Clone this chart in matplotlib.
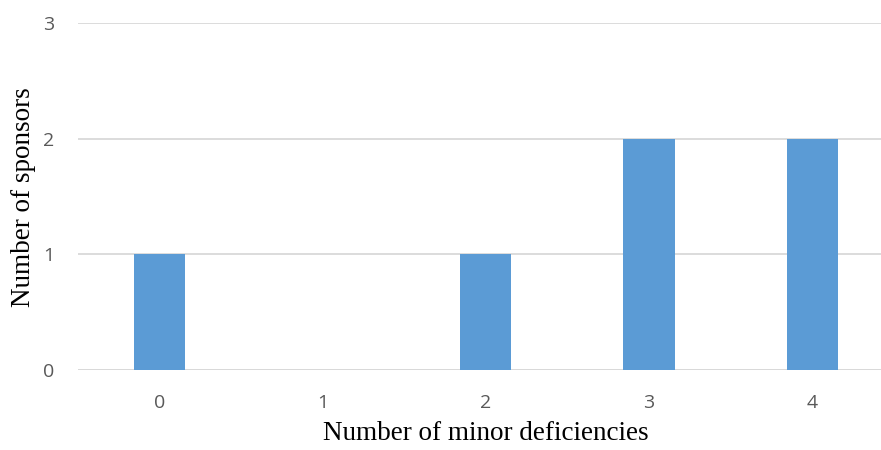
import matplotlib
matplotlib.use("Agg")
import matplotlib.pyplot as plt

# minor deficiencies per sponsor
deficiencies = [0, 1, 2, 3, 4]
sponsors = [1, 0, 1, 2, 2]
tick_labels = ["0", "1", "2", "3", "4"]

bar_color = "#5B9BD5"
grid_color = "#D9D9D9"
text_color = "#595959"

fig = plt.figure(figsize=(8.81, 4.5), dpi=100)
ax = fig.add_axes([0.0885, 0.1778, 0.926, 0.7704])

ax.bar(deficiencies, sponsors, width=0.313, color=bar_color, zorder=3)

ax.set_xlim(-0.5, 4.5)
ax.set_ylim(0, 3)
ax.set_yticks([0, 1, 2, 3])
ax.set_xticks(deficiencies)
ax.set_xticklabels(tick_labels)

ax.yaxis.grid(True, color=grid_color, linewidth=1.3, zorder=0)
ax.axhline(0, color=grid_color, linewidth=1.3, zorder=1)
for s in ax.spines.values():
    s.set_visible(False)

ax.tick_params(axis="both", length=0, labelsize=14, labelcolor=text_color)
ax.tick_params(axis="y", pad=17)
ax.tick_params(axis="x", pad=17)
for lbl in ax.get_xticklabels() + ax.get_yticklabels():
    lbl.set_family("Open Sans")

ax.set_xlabel("Number of minor deficiencies", family="Liberation Serif",
              fontsize=19.5, color="black")
ax.set_ylabel("Number of sponsors", family="Liberation Serif",
              fontsize=19.5, color="black")
ax.xaxis.set_label_coords(0.5, -0.147)
ax.yaxis.set_label_coords(-0.051, 0.5)

fig.savefig("out.png", dpi=100)
